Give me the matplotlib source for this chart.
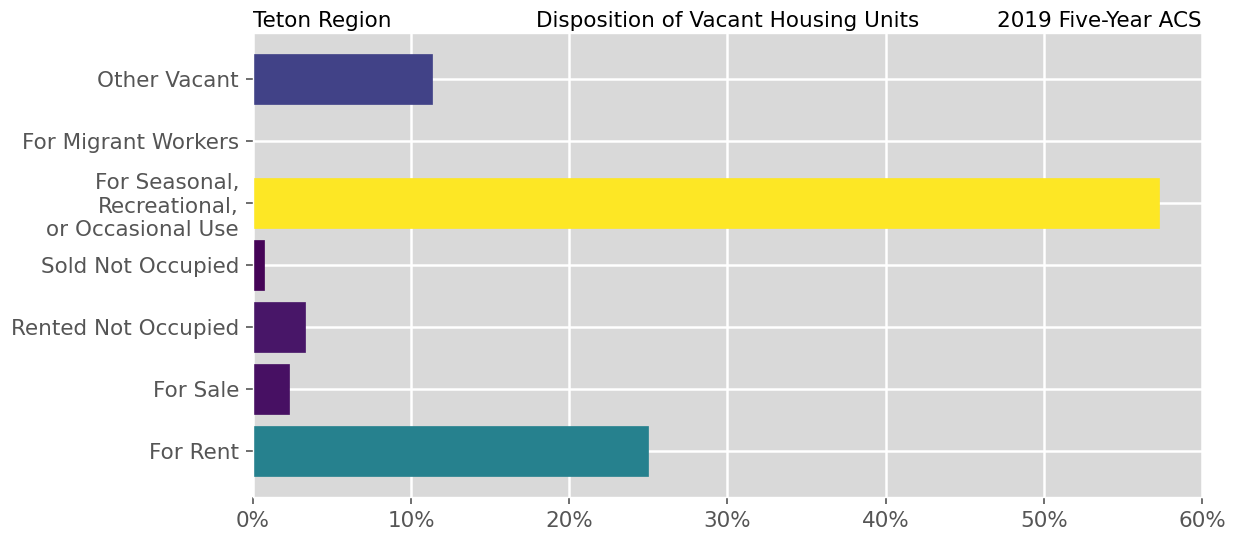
import numpy as np
import matplotlib
matplotlib.use('Agg')
from matplotlib import pyplot as plt
from matplotlib.ticker import PercentFormatter

# categories bottom to top
categories = ['For Rent', 'For Sale', 'Rented Not Occupied', 'Sold Not Occupied',
              'For Seasonal,\nRecreational,\nor Occasional Use', 'For Migrant Workers',
              'Other Vacant']
shares = [25.0, 2.25, 3.27, 0.67, 57.3, 0.0, 11.35]
x_ticks = [0, 10, 20, 30, 40, 50, 60]

plt.style.use('ggplot')
plt.rcParams['font.family'] = 'DejaVu Sans'
fig = plt.figure(figsize=(12.34, 5.33), dpi=100)
ax = fig.add_axes([0.205, 0.068, 0.769, 0.87])
ax.set_facecolor('#d9d9d9')
ax.grid(color='white', linewidth=1.8)

vals = np.array(shares)
colors = plt.cm.viridis(vals / vals.max())
ax.barh(categories, vals, height=0.8, color=colors, edgecolor=colors, linewidth=0.5)

ax.set_xlim(0, 60)
ax.set_xticks(x_ticks)
ax.xaxis.set_major_formatter(PercentFormatter(decimals=0))
ax.tick_params(labelsize=15.5, colors='#555555', length=5, width=1.2, pad=5)
for lab in ax.get_xticklabels() + ax.get_yticklabels():
    lab.set_color('#555555')

ax.set_title('Teton Region', loc='left', fontsize=15.5, color='black', pad=4)
ax.set_title('Disposition of Vacant Housing Units', loc='center', fontsize=15.5, color='black', pad=4)
ax.set_title('2019 Five-Year ACS', loc='right', fontsize=15.5, color='black', pad=4)

fig.savefig('out.png', dpi=100)
